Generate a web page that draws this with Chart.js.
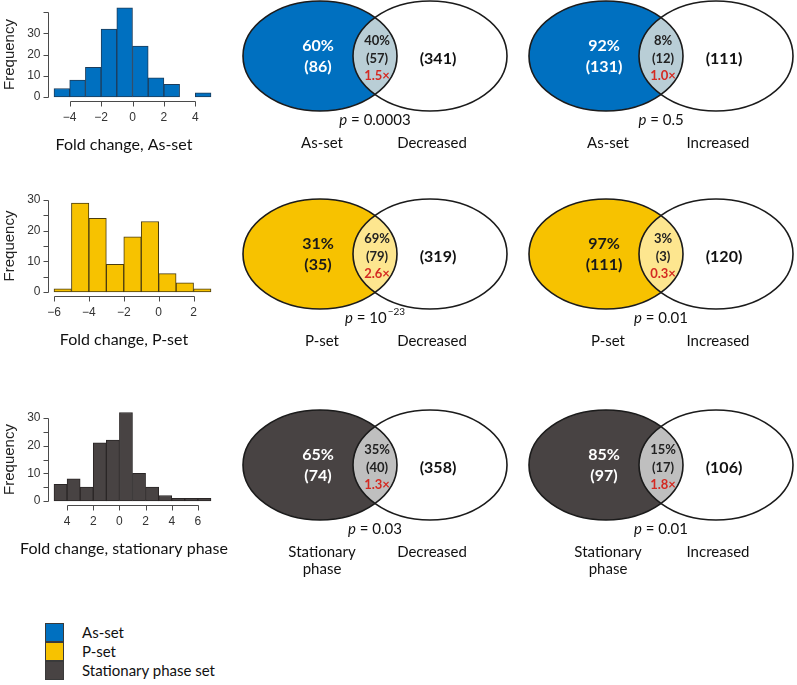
<!DOCTYPE html>
<html><head><meta charset="utf-8">
<script src="https://cdn.jsdelivr.net/npm/chart.js@4/dist/chart.umd.min.js"></script>
<style>
html,body{margin:0;padding:0;background:#fff}
body{width:797px;height:685px;position:relative;overflow:hidden;font-family:Lato,"Open Sans",sans-serif}
canvas{position:absolute}
.lg{position:absolute;left:45px;width:19px;height:19px;box-sizing:border-box;border:1px solid #3a3a3a}
.lt{position:absolute;left:82px;font-size:15px;line-height:19px;color:#111}
</style></head><body>
<canvas id="h1" width="240" height="160" style="left:0;top:0"></canvas>
<canvas id="h2" width="240" height="170" style="left:0;top:180px"></canvas>
<canvas id="h3" width="240" height="175" style="left:0;top:390px"></canvas>
<canvas id="v1" width="290" height="180" style="left:230px;top:-4px"></canvas>
<canvas id="v2" width="290" height="180" style="left:516px;top:-4px"></canvas>
<canvas id="v3" width="290" height="180" style="left:230px;top:194px"></canvas>
<canvas id="v4" width="290" height="180" style="left:516px;top:194px"></canvas>
<canvas id="v5" width="290" height="180" style="left:230px;top:405px"></canvas>
<canvas id="v6" width="290" height="180" style="left:516px;top:405px"></canvas>
<div id="legend"></div>
<script>
// ---------- DATA ----------
// Histograms (bin width 1)
const histAsCounts = [4, 8, 14, 32, 42, 24, 9, 6, 0, 2];
const histAsStart = -5;
const histPCounts = [1, 29, 24, 9, 18, 23, 6, 3, 1];
const histPStart = -6;
const histStatCounts = [6, 8, 5, 21, 22, 32, 10, 5, 2, 1, 1, 1];
const histStatStart = -5;

const histAsXTicks = [-4, -2, 0, 2, 4];
const histAsXLabels = ['\u22124', '\u22122', '0', '2', '4'];
const histPXTicks = [-6, -4, -2, 0, 2];
const histPXLabels = ['\u22126', '\u22124', '\u22122', '0', '2'];
const histStatXTicks = [-4, -2, 0, 2, 4, 6];
const histStatXLabels = ['4', '2', '0', '2', '4', '6'];

const histAsYTicks = [0, 10, 20, 30, 40];
const histAsYLabels = ['0', '10', '20', '30', ''];
const histPYTicks = [0, 5, 10, 15, 20, 25, 30];
const histPYLabels = ['0', '', '10', '', '20', '', '30'];
const histStatYTicks = [0, 5, 10, 15, 20, 25, 30];
const histStatYLabels = ['0', '', '10', '', '20', '', '30'];

const histTitles = ['Fold change, As-set', 'Fold change, P-set', 'Fold change, stationary phase'];

// Venn diagrams: rows = As-set, P-set, Stationary phase
const setLabels = [['As-set'], ['P-set'], ['Stationary', 'phase']];
const decLeftPct = [60, 31, 65];
const decLeftN = [86, 35, 74];
const decOverlapPct = [40, 69, 35];
const decOverlapN = [57, 79, 40];
const decFold = ['1.5', '2.6', '1.3'];
const decOnlyN = [341, 319, 358];
const decP = [['0.0003', ''], ['10', '\u221223'], ['0.03', '']];

const incLeftPct = [92, 97, 85];
const incLeftN = [131, 111, 97];
const incOverlapPct = [8, 3, 15];
const incOverlapN = [12, 3, 17];
const incFold = ['1.0', '0.3', '1.8'];
const incOnlyN = [111, 120, 106];
const incP = [['0.5', ''], ['0.01', ''], ['0.01', '']];

const legendLabels = ['As-set', 'P-set', 'Stationary phase set'];

// ---------- STYLE ----------
const FONT = 'Lato, "Open Sans", sans-serif';
const RFONT = '"Liberation Sans", Arial, sans-serif';
const setColors = ['#0070C0', '#F7C200', '#484343'];
const barBorders = ['#1d3c5a', '#4a3c10', '#2a2626'];
const overlapColors = ['#B9CED6', '#FDE68F', '#BFBFBF'];
const leftTextColors = ['#ffffff', '#1a1a1a', '#ffffff'];

// ---------- HISTOGRAMS ----------
const histAxes = {
  id: 'raxes',
  afterDraw(chart, args, o) {
    const ctx = chart.ctx, ca = chart.chartArea, x = chart.scales.x, y = chart.scales.y;
    ctx.save();
    ctx.strokeStyle = '#4a4a4a'; ctx.lineWidth = 1; ctx.fillStyle = '#333';
    // y axis
    const ax = Math.round(ca.left - 6) + 0.5;
    const y0 = y.getPixelForValue(o.yTicks[0]);
    const y1 = y.getPixelForValue(o.yTicks[o.yTicks.length - 1]);
    ctx.beginPath();
    ctx.moveTo(ax, Math.round(y0) + 0.5); ctx.lineTo(ax, Math.round(y1) + 0.5);
    o.yTicks.forEach(v => { const p = Math.round(y.getPixelForValue(v)) + 0.5; ctx.moveTo(ax, p); ctx.lineTo(ax - 5, p); });
    ctx.stroke();
    ctx.font = '12px ' + RFONT; ctx.textAlign = 'right'; ctx.textBaseline = 'middle';
    o.yTicks.forEach((v, i) => { if (o.yLabels[i]) ctx.fillText(o.yLabels[i], ax - 8, y.getPixelForValue(v)); });
    // x axis
    const ay = Math.round(y.getPixelForValue(0) + 4) + 0.5;
    const xa = x.getPixelForValue(o.xTicks[0]), xb = x.getPixelForValue(o.xTicks[o.xTicks.length - 1]);
    ctx.beginPath();
    ctx.moveTo(Math.round(xa) + 0.5, ay); ctx.lineTo(Math.round(xb) + 0.5, ay);
    o.xTicks.forEach(v => { const p = Math.round(x.getPixelForValue(v)) + 0.5; ctx.moveTo(p, ay); ctx.lineTo(p, ay + 5); });
    ctx.stroke();
    ctx.textAlign = 'center';
    o.xTicks.forEach((v, i) => ctx.fillText(o.xLabels[i], x.getPixelForValue(v), ay + 16));
    // Frequency
    ctx.save();
    ctx.translate(10, (y0 + y1) / 2); ctx.rotate(-Math.PI / 2);
    ctx.font = '15px ' + RFONT; ctx.fillStyle = '#222';
    ctx.fillText('Frequency', 0, 0);
    ctx.restore();
    // title
    ctx.font = '16px ' + FONT; ctx.fillStyle = '#111';
    ctx.fillText(o.title, o.titleX, ay + 43);
    ctx.restore();
  }
};

function makeHist(id, counts, start, k, yMax, yTicks, yLabels, xTicks, xLabels, title, pad) {
  const data = counts.map((c, i) => ({ x: start + i + 0.5, y: c }));
  new Chart(document.getElementById(id), {
    type: 'bar',
    data: { datasets: [{ data, backgroundColor: setColors[k], borderColor: barBorders[k], borderWidth: 1,
      borderSkipped: false, barPercentage: 1, categoryPercentage: 1, clip: false }] },
    options: {
      animation: false, responsive: false, devicePixelRatio: 1,
      layout: { padding: pad },
      plugins: { legend: { display: false }, tooltip: { enabled: false },
        raxes: { yTicks, yLabels, xTicks, xLabels, title, titleX: 124 } },
      scales: {
        x: { type: 'linear', display: false, offset: false, min: start, max: start + counts.length, ticks: { stepSize: 1 } },
        y: { display: false, min: 0, max: yMax }
      }
    },
    plugins: [histAxes]
  });
}

makeHist('h1', histAsCounts, histAsStart, 0, 40, histAsYTicks, histAsYLabels, histAsXTicks, histAsXLabels, histTitles[0],
  { left: 54, right: 29, top: 12, bottom: 63 });
makeHist('h2', histPCounts, histPStart, 1, 30, histPYTicks, histPYLabels, histPXTicks, histPXLabels, histTitles[1],
  { left: 54, right: 29, top: 20, bottom: 58 });
makeHist('h3', histStatCounts, histStatStart, 2, 30, histStatYTicks, histStatYLabels, histStatXTicks, histStatXLabels, histTitles[2],
  { left: 54, right: 29, top: 28, bottom: 64 });

// ---------- VENN ----------
const vennPlugin = {
  id: 'venn',
  afterDraw(chart, args, o) {
    const ctx = chart.ctx, xs = chart.scales.x, ys = chart.scales.y;
    const pts = chart.data.datasets[0].data;
    const lx = xs.getPixelForValue(pts[0].x), rxp = xs.getPixelForValue(pts[1].x);
    const cy = ys.getPixelForValue(pts[0].y);
    const rx = xs.getPixelForValue(o.rx) - xs.getPixelForValue(0);
    const ry = ys.getPixelForValue(0) - ys.getPixelForValue(o.ry);
    const mid = (lx + rxp) / 2;
    const ell = (cx) => { ctx.beginPath(); ctx.ellipse(cx, cy, rx, ry, 0, 0, Math.PI * 2); };
    ctx.save();
    ell(rxp); ctx.fillStyle = '#fff'; ctx.fill();
    ell(lx); ctx.fillStyle = o.color; ctx.fill();
    ctx.save(); ell(rxp); ctx.clip(); ell(lx); ctx.fillStyle = o.overlap; ctx.fill(); ctx.restore();
    ctx.lineWidth = 1.6; ctx.strokeStyle = '#1b1b1b';
    ell(lx); ctx.stroke(); ell(rxp); ctx.stroke();
    ctx.textAlign = 'center'; ctx.textBaseline = 'middle';
    // left only
    ctx.font = 'bold 16px ' + FONT; ctx.fillStyle = o.leftText;
    ctx.fillText(o.leftPct + '%', lx - 2, cy - 10);
    ctx.fillText('(' + o.leftN + ')', lx - 2, cy + 11);
    // overlap
    ctx.font = 'bold 13px ' + FONT; ctx.fillStyle = '#222';
    ctx.fillText(o.ovPct + '%', mid + 2, cy - 15);
    ctx.fillText('(' + o.ovN + ')', mid + 2, cy + 3);
    ctx.fillStyle = '#D42A22';
    ctx.fillText(o.fold + '\u00d7', mid + 2, cy + 20);
    // right only
    ctx.font = 'bold 16px ' + FONT; ctx.fillStyle = '#111';
    ctx.fillText('(' + o.onlyN + ')', rxp + 8, cy + 3);
    // p value
    const py = cy + 64;
    ctx.fillStyle = '#111';
    const fI = 'italic 15px ' + FONT, fR = '15px ' + FONT, fS = '10px ' + FONT;
    ctx.font = fI; const w1 = ctx.measureText('p').width;
    ctx.font = fR; const s2 = ' = ' + o.p[0]; const w2 = ctx.measureText(s2).width;
    ctx.font = fS; const w3 = o.p[1] ? ctx.measureText(o.p[1]).width + 1 : 0;
    let sx = mid - (w1 + w2 + w3) / 2;
    ctx.textAlign = 'left';
    ctx.font = fI; ctx.fillText('p', sx, py); sx += w1;
    ctx.font = fR; ctx.fillText(s2, sx, py); sx += w2;
    if (o.p[1]) { ctx.font = fS; ctx.fillText(o.p[1], sx + 1, py - 6); }
    // set labels
    ctx.textAlign = 'center'; ctx.font = fR;
    o.leftLabel.forEach((t, i) => ctx.fillText(t, lx + 2, cy + 87 + i * 17));
    ctx.fillText(o.rightLabel, rxp + 2, cy + 87);
    ctx.restore();
  }
};

function makeVenn(id, row, leftPct, leftN, ovPct, ovN, fold, onlyN, p, rightLabel) {
  new Chart(document.getElementById(id), {
    type: 'scatter',
    data: { datasets: [{ data: [{ x: -0.5, y: 0 }, { x: 0.5, y: 0 }], pointRadius: 0 }] },
    options: {
      animation: false, responsive: false, devicePixelRatio: 1,
      layout: { padding: 0 },
      plugins: { legend: { display: false }, tooltip: { enabled: false },
        venn: { rx: 0.7, ry: 0.5, color: setColors[row], overlap: overlapColors[row], leftText: leftTextColors[row],
          leftPct, leftN, ovPct, ovN, fold, onlyN, p, leftLabel: setLabels[row], rightLabel } },
      scales: {
        x: { type: 'linear', display: false, min: -145 / 110, max: 145 / 110 },
        y: { type: 'linear', display: false, min: -120 / 110, max: 60 / 110 }
      }
    },
    plugins: [vennPlugin]
  });
}

for (let r = 0; r < 3; r++) {
  makeVenn('v' + (2 * r + 1), r, decLeftPct[r], decLeftN[r], decOverlapPct[r], decOverlapN[r], decFold[r], decOnlyN[r], decP[r], 'Decreased');
  makeVenn('v' + (2 * r + 2), r, incLeftPct[r], incLeftN[r], incOverlapPct[r], incOverlapN[r], incFold[r], incOnlyN[r], incP[r], 'Increased');
}

// ---------- LEGEND ----------
const lg = document.getElementById('legend');
legendLabels.forEach((t, i) => {
  const sq = document.createElement('div'); sq.className = 'lg';
  sq.style.top = (623 + i * 19) + 'px'; sq.style.background = setColors[i];
  const tx = document.createElement('div'); tx.className = 'lt';
  tx.style.top = (623 + i * 19) + 'px'; tx.textContent = t;
  lg.appendChild(sq); lg.appendChild(tx);
});
</script>
</body></html>
